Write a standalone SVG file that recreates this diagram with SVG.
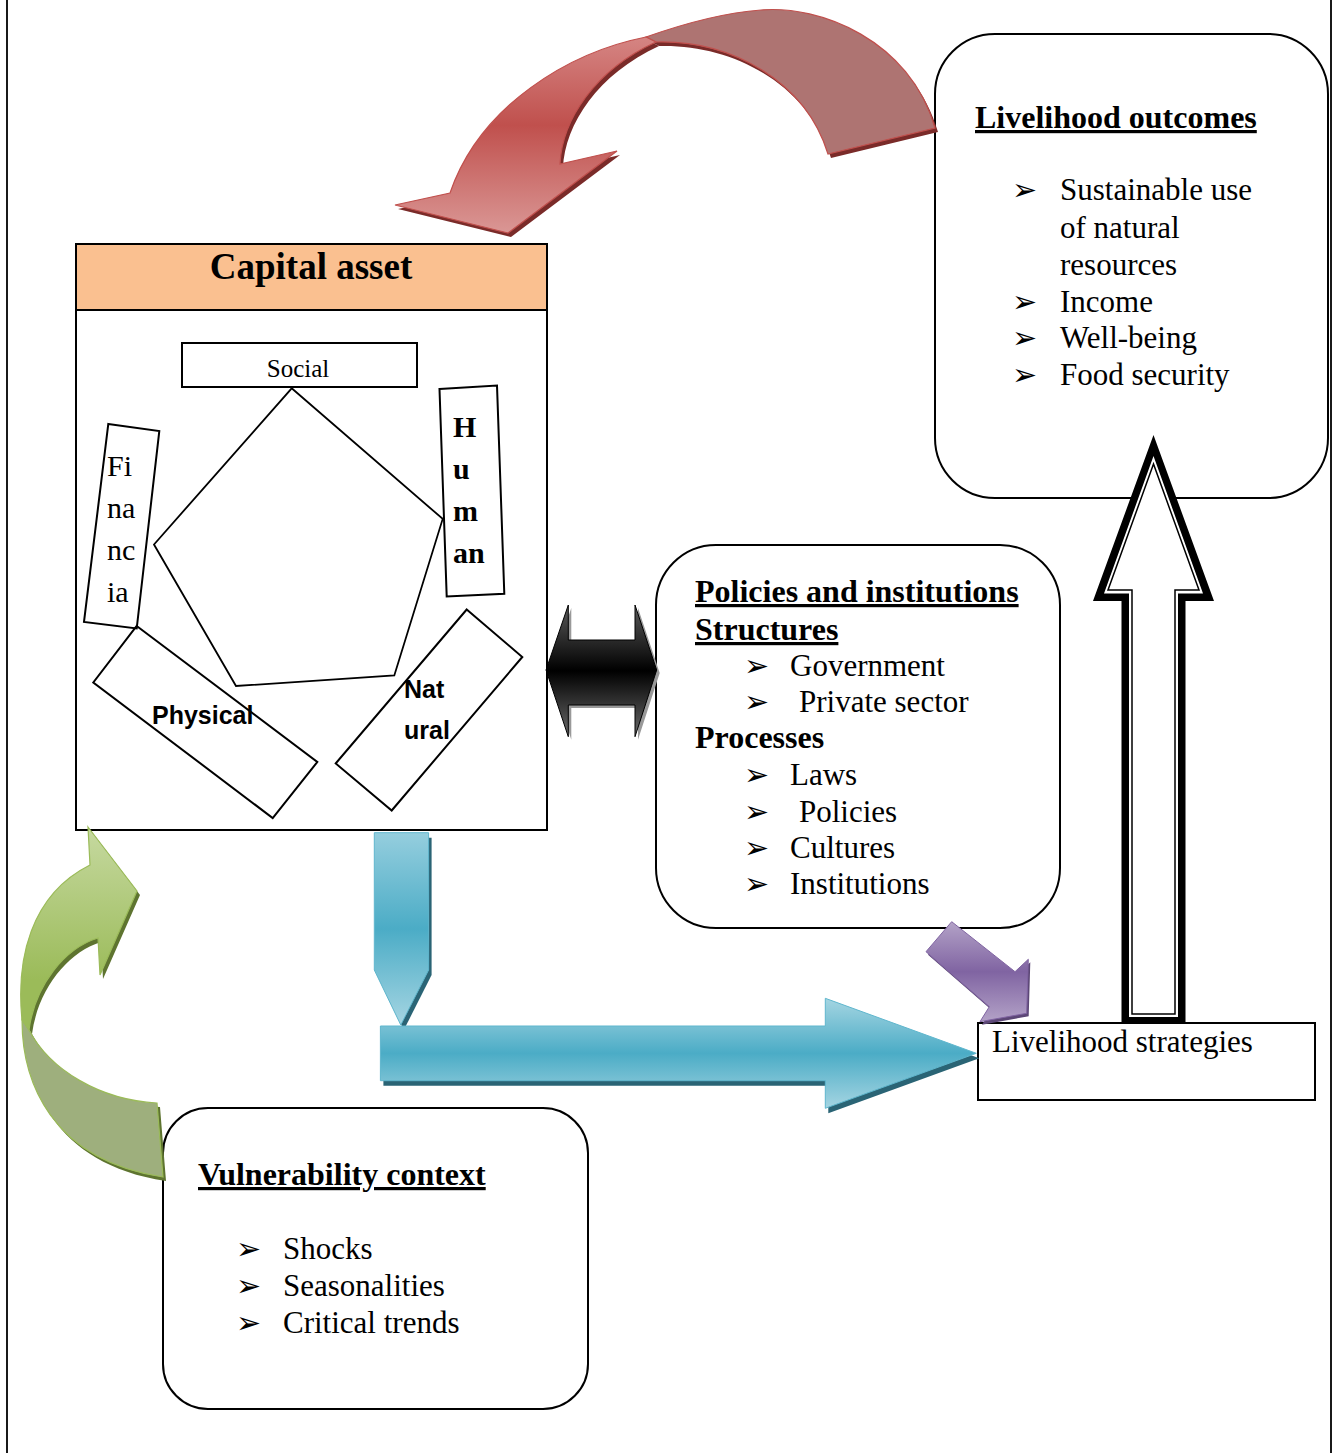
<svg xmlns="http://www.w3.org/2000/svg" width="1337" height="1453" viewBox="0 0 1337 1453">
<defs>
<style>
.t{font-family:'Liberation Serif','Times New Roman',serif;font-size:31px;fill:#000}
.b{font-weight:bold;font-size:32px}
.u{text-decoration:underline}
.bul{font-family:'DejaVu Sans',sans-serif;font-size:30px;fill:#000}
.sans{font-family:'Liberation Sans',Arial,sans-serif;font-weight:bold;font-size:25px;fill:#000}
.box{fill:#fff;stroke:#000;stroke-width:2}
.ln{fill:none;stroke:#000;stroke-width:1.8}
</style>
<linearGradient id="gRed" x1="0" y1="0" x2="0" y2="1">
<stop offset="0" stop-color="#D58583"/><stop offset="0.45" stop-color="#C0504D"/><stop offset="1" stop-color="#DA9795"/>
</linearGradient>
<linearGradient id="gGreen" x1="0" y1="0" x2="0" y2="1">
<stop offset="0" stop-color="#C6D9A0"/><stop offset="0.75" stop-color="#9BBB59"/><stop offset="1" stop-color="#9BBB59"/>
</linearGradient>
<linearGradient id="gBlack" x1="0" y1="0" x2="0" y2="1">
<stop offset="0" stop-color="#5a5a5a"/><stop offset="0.5" stop-color="#000"/><stop offset="1" stop-color="#6a6a6a"/>
</linearGradient>
<linearGradient id="gBlueH" x1="0" y1="0" x2="0" y2="1">
<stop offset="0" stop-color="#A5D5E2"/><stop offset="0.5" stop-color="#4BACC6"/><stop offset="1" stop-color="#A5D5E2"/>
</linearGradient>
<linearGradient id="gBlueV" x1="0" y1="0" x2="0" y2="1">
<stop offset="0" stop-color="#95CEDE"/><stop offset="0.5" stop-color="#4BACC6"/><stop offset="1" stop-color="#A5D5E2"/>
</linearGradient>
<linearGradient id="gPurple" x1="0" y1="0" x2="0" y2="1">
<stop offset="0" stop-color="#B3A2C7"/><stop offset="0.5" stop-color="#8064A2"/><stop offset="1" stop-color="#B3A2C7"/>
</linearGradient>
</defs>
<rect x="0" y="0" width="1337" height="1453" fill="#fff"/>
<g id="page-border">
<line class="ln" x1="7" y1="0" x2="7" y2="1453"/>
<line class="ln" x1="1331" y1="0" x2="1331" y2="1453"/>
</g>
<g id="capital-asset">
<rect class="box" x="76" y="244" width="471" height="586"/>
<rect x="76" y="244" width="471" height="66" fill="#FAC090" stroke="#000" stroke-width="2"/>
<text class="t b" x="311" y="279" text-anchor="middle" style="font-size:37px">Capital asset</text>
<polygon points="291.7,388.3 442.7,518.9 394.3,675.4 236,686 154,544.5" fill="none" stroke="#000" stroke-width="1.8"/>
<g id="social"><rect x="182" y="343" width="235" height="44" fill="none" stroke="#000" stroke-width="2"/>
<text class="t" x="298" y="377" text-anchor="middle" style="font-size:25px">Social</text></g>
<g id="human"><polygon points="439.5,389 497,385.6 504.3,593.7 446.7,596.4" fill="none" stroke="#000" stroke-width="2"/>
<text class="t b" x="453" y="437" style="font-size:30px">H</text>
<text class="t b" x="453" y="479" style="font-size:30px">u</text>
<text class="t b" x="453" y="521" style="font-size:30px">m</text>
<text class="t b" x="453" y="563" style="font-size:30px">an</text></g>
<g id="financial"><polygon points="108.3,424 159.3,431 136.7,628.5 84,622" fill="none" stroke="#000" stroke-width="2"/>
<text class="t" x="107" y="476" style="font-size:30px">Fi</text>
<text class="t" x="107" y="518" style="font-size:30px">na</text>
<text class="t" x="107" y="560" style="font-size:30px">nc</text>
<text class="t" x="107" y="602" style="font-size:30px">ia</text></g>
<g id="physical"><polygon points="136.7,626 317.3,762 272.7,818 93.3,682.5" fill="none" stroke="#000" stroke-width="2"/>
<text class="sans" x="152" y="724">Physical</text></g>
<g id="natural"><polygon points="466.7,609.5 522.3,657 391.7,810.5 335.7,763.5" fill="none" stroke="#000" stroke-width="2"/>
<text class="sans" x="404" y="698">Nat</text>
<text class="sans" x="404" y="739">ural</text></g>
</g>
<g id="livelihood-outcomes">
<rect class="box" x="935" y="34" width="393" height="464" rx="60" ry="60"/>
<text class="t b u" x="975" y="128">Livelihood outcomes</text>
<text class="bul" x="1012" y="200">➢</text><text class="t" x="1060" y="200">Sustainable use</text>
<text class="t" x="1060" y="238">of natural</text>
<text class="t" x="1060" y="275">resources</text>
<text class="bul" x="1012" y="312">➢</text><text class="t" x="1060" y="312">Income</text>
<text class="bul" x="1012" y="348">➢</text><text class="t" x="1060" y="348">Well-being</text>
<text class="bul" x="1012" y="385">➢</text><text class="t" x="1060" y="385">Food security</text>
</g>
<g id="policies-institutions">
<rect class="box" x="656" y="545" width="404" height="383" rx="60" ry="60"/>
<text class="t b u" x="695" y="602">Policies and institutions</text>
<text class="t b u" x="695" y="640">Structures</text>
<text class="bul" x="744" y="676">➢</text><text class="t" x="790" y="676">Government</text>
<text class="bul" x="744" y="712">➢</text><text class="t" x="799" y="712">Private sector</text>
<text class="t b" x="695" y="748">Processes</text>
<text class="bul" x="744" y="785">➢</text><text class="t" x="790" y="785">Laws</text>
<text class="bul" x="744" y="822">➢</text><text class="t" x="799" y="822">Policies</text>
<text class="bul" x="744" y="858">➢</text><text class="t" x="790" y="858">Cultures</text>
<text class="bul" x="744" y="894">➢</text><text class="t" x="790" y="894">Institutions</text>
</g>
<g id="vulnerability-context">
<rect class="box" x="163" y="1108" width="425" height="301" rx="45" ry="45"/>
<text class="t b u" x="198" y="1185">Vulnerability context</text>
<text class="bul" x="236" y="1259">➢</text><text class="t" x="283" y="1259">Shocks</text>
<text class="bul" x="236" y="1296">➢</text><text class="t" x="283" y="1296">Seasonalities</text>
<text class="bul" x="236" y="1333">➢</text><text class="t" x="283" y="1333">Critical trends</text>
</g>
<g id="livelihood-strategies">
<rect class="box" x="978" y="1023" width="337" height="77"/>
<text class="t" x="992" y="1052">Livelihood strategies</text>
</g>
<g id="connectors">
<g id="red-arrow">
<g transform="translate(3,4)" fill="#7A2B29">
<path d="M656,42 C730,40 805,80 828,154 L935,128 C910,40 820,5 761,10 C720,13 680,25 646,37 Z"/>
<path d="M646,37 C570,52 480,105 450,193 L395,205 L508,233 L617,151 L560,164 C562,120 595,70 656,42 Z"/>
</g>
<path d="M656,42 C730,40 805,80 828,154 L935,128 C910,40 820,5 761,10 C720,13 680,25 646,37 Z" fill="#AE7472" stroke="#C0504D" stroke-width="1.2"/>
<path d="M646,37 C570,52 480,105 450,193 L395,205 L508,233 L617,151 L560,164 C562,120 595,70 656,42 Z" fill="url(#gRed)" stroke="#C0504D" stroke-width="1.2"/>
</g>
<g id="black-double-arrow">
<polygon transform="translate(3,3)" points="546,670 568.3,605 568.3,640 635,640 635,605 656.7,670 635,736.7 635,705 568.3,705 568.3,736.7" fill="#999"/>
<polygon points="546,670 568.3,605 568.3,640 635,640 635,605 656.7,670 635,736.7 635,705 568.3,705 568.3,736.7" fill="url(#gBlack)" stroke="#000" stroke-width="1"/>
</g>
<g id="green-arrow">
<g transform="translate(3,4)" fill="#5E7430">
<path d="M22,1020 C22,1080 50,1160 163,1177 L157,1103 C100,1100 50,1070 29,1030 Z"/>
<path d="M88,827 L137,891 L100,975 L98,938 C65,948 35,985 29,1030 L22,1020 C16,960 30,895 90,865 Z"/>
</g>
<path d="M22,1020 C22,1080 50,1160 163,1177 L157,1103 C100,1100 50,1070 29,1030 Z" fill="#9EAF7D" stroke="#9BBB59" stroke-width="1.2"/>
<path d="M88,827 L137,891 L100,975 L98,938 C65,948 35,985 29,1030 L22,1020 C16,960 30,895 90,865 Z" fill="url(#gGreen)" stroke="#9BBB59" stroke-width="1.2"/>
</g>
<g id="blue-arrows">
<polygon transform="translate(3,5)" points="374.3,832.7 428.6,832.7 428.6,970 400.8,1025 374.3,970" fill="#2A6475"/>
<polygon points="374.3,832.7 428.6,832.7 428.6,970 400.8,1025 374.3,970" fill="url(#gBlueV)" stroke="#5FB6CD" stroke-width="1"/>
<polygon transform="translate(3,5)" points="380.4,1026 825.3,1026 825.3,998.3 976.3,1053.3 825.3,1108.3 825.3,1080.7 380.4,1080.7" fill="#2A6475"/>
<polygon points="380.4,1026 825.3,1026 825.3,998.3 976.3,1053.3 825.3,1108.3 825.3,1080.7 380.4,1080.7" fill="url(#gBlueH)" stroke="#5FB6CD" stroke-width="1"/>
</g>
<g id="purple-arrow">
<polygon transform="translate(2,3)" points="951.7,921.7 1015,971.7 1028.3,959.3 1026.7,1013.3 980,1021.7 989.3,1006.7 926,951.7" fill="#5C4776"/>
<polygon points="951.7,921.7 1015,971.7 1028.3,959.3 1026.7,1013.3 980,1021.7 989.3,1006.7 926,951.7" fill="url(#gPurple)" stroke="#8064A2" stroke-width="1"/>
</g>
<g id="up-arrow">
<polygon points="1153.5,435 1093,601 1121.5,601 1121.5,1023 1185.5,1023 1185.5,601 1214,601" fill="#000"/>
<polygon points="1153.5,456 1104,593.5 1129,593.5 1129,1017 1178,1017 1178,593.5 1203,593.5" fill="#fff"/>
<polygon points="1153.5,464 1108,590 1132,590 1132,1014 1175,1014 1175,590 1199,590" fill="#fff" stroke="#000" stroke-width="1.5"/>
</g>
</g>
</svg>
